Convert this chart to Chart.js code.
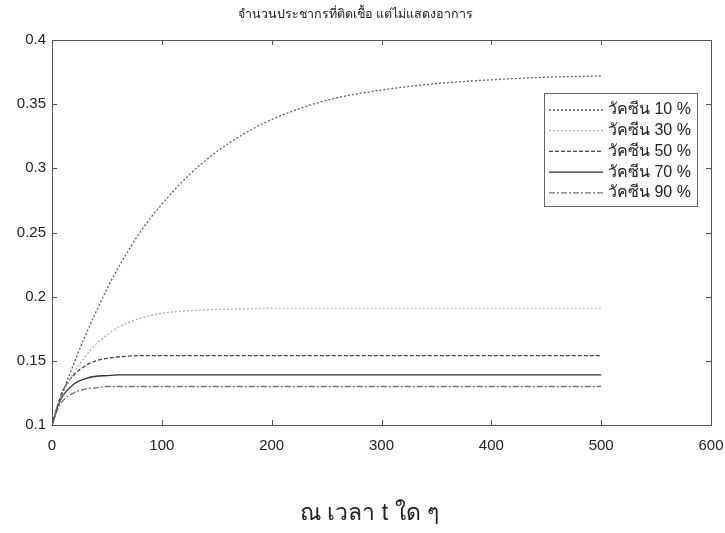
<!DOCTYPE html>
<html>
<head>
<meta charset="utf-8">
<script src="https://cdn.jsdelivr.net/npm/chart.js@4.4.1/dist/chart.umd.min.js"></script>
<style>
  html, body { margin: 0; padding: 0; background: #fff; }
  #wrap { width: 725px; height: 533px; }
</style>
</head>
<body>
<div id="wrap"><canvas id="myChart" width="725" height="533"></canvas></div>
<script>
// time steps (t) and the five vaccine series
const times = [0, 5, 10, 20, 30, 40, 50, 60, 80, 100, 125, 150, 175, 200, 250, 300, 350, 400, 450, 500];
const vac10 = [0.100, 0.113, 0.126, 0.148, 0.169, 0.188, 0.206, 0.222, 0.250, 0.272, 0.295, 0.313, 0.327, 0.338, 0.353, 0.361, 0.366, 0.369, 0.371, 0.372];
const vac30 = [0.100, 0.113, 0.124, 0.141, 0.153, 0.163, 0.170, 0.176, 0.183, 0.187, 0.189, 0.190, 0.1905, 0.191, 0.191, 0.191, 0.191, 0.191, 0.191, 0.191];
const vac50 = [0.100, 0.115, 0.127, 0.139, 0.146, 0.150, 0.152, 0.153, 0.154, 0.154, 0.154, 0.154, 0.154, 0.154, 0.154, 0.154, 0.154, 0.154, 0.154, 0.154];
const vac70 = [0.100, 0.114, 0.123, 0.132, 0.136, 0.138, 0.1385, 0.139, 0.139, 0.139, 0.139, 0.139, 0.139, 0.139, 0.139, 0.139, 0.139, 0.139, 0.139, 0.139];
const vac90 = [0.100, 0.112, 0.119, 0.125, 0.128, 0.129, 0.130, 0.130, 0.130, 0.130, 0.130, 0.130, 0.130, 0.130, 0.130, 0.130, 0.130, 0.130, 0.130, 0.130];
const seriesLabels = ["วัคซีน 10 %", "วัคซีน 30 %", "วัคซีน 50 %", "วัคซีน 70 %", "วัคซีน 90 %"];
const xTicks = [0, 100, 200, 300, 400, 500, 600];
const yTicks = [0.1, 0.15, 0.2, 0.25, 0.3, 0.35, 0.4];

const chartTitle = "จำนวนประชากรที่ติดเชื้อ แต่ไม่แสดงอาการ";
const xTitle = "ณ เวลา t ใด ๆ";

function pts(vals) {
    return times.map((t, i) => ({ x: t, y: vals[i] }));
}

const styles = [
    { color: "#5a5f5c", dash: [2, 2] },
    { color: "#a9acaa", dash: [2, 2] },
    { color: "#3c4a42", dash: [4, 2] },
    { color: "#27352d", dash: [] },
    { color: "#707472", dash: [6, 2, 2, 2] }
];
const allSeries = [vac10, vac30, vac50, vac70, vac90];

// box + inward ticks + legend inside plot (matlab look)
const matlabFrame = {
    id: "matlabFrame",
    afterDraw(chart) {
        const ctx = chart.ctx;
        const a = chart.chartArea;
        const xs = chart.scales.x, ys = chart.scales.y;
        ctx.save();
        ctx.strokeStyle = "#555";
        ctx.lineWidth = 1;
        ctx.setLineDash([]);
        ctx.strokeRect(a.left + 0.5, a.top + 0.5, a.right - a.left, a.bottom - a.top);
        const tl = 5;
        ctx.beginPath();
        xTicks.forEach(v => {
            const px = Math.round(xs.getPixelForValue(v)) + 0.5;
            ctx.moveTo(px, a.bottom); ctx.lineTo(px, a.bottom - tl);
            ctx.moveTo(px, a.top); ctx.lineTo(px, a.top + tl);
        });
        yTicks.forEach(v => {
            const py = Math.round(ys.getPixelForValue(v)) + 0.5;
            ctx.moveTo(a.left, py); ctx.lineTo(a.left + tl, py);
            ctx.moveTo(a.right, py); ctx.lineTo(a.right - tl, py);
        });
        ctx.stroke();

        // legend
        const bx = a.right - 167, by = a.top + 53, bw = 153, bh = 113;
        ctx.fillStyle = "#fff";
        ctx.fillRect(bx, by, bw, bh);
        ctx.strokeStyle = "#666";
        ctx.strokeRect(bx + 0.5, by + 0.5, bw, bh);
        ctx.font = "16px 'Liberation Sans', Arial, sans-serif";
        ctx.textBaseline = "middle";
        ctx.fillStyle = "#222";
        chart.data.datasets.forEach((ds, i) => {
            const yy = by + 17 + i * 20.7;
            ctx.strokeStyle = ds.borderColor;
            ctx.lineWidth = ds.borderWidth;
            ctx.setLineDash(ds.borderDash);
            ctx.beginPath();
            ctx.moveTo(bx + 5, yy); ctx.lineTo(bx + 59, yy);
            ctx.stroke();
            ctx.fillText(ds.label, bx + 64, yy);
        });

        // x axis title, sits a bit left of the axis centre in the original
        ctx.setLineDash([]);
        ctx.font = "23px 'Liberation Sans', sans-serif";
        ctx.textAlign = "center";
        ctx.textBaseline = "alphabetic";
        ctx.fillStyle = "#222";
        ctx.fillText(xTitle, (a.left + a.right) / 2 - 12, 520);
        ctx.restore();
    }
};

const ctx = document.getElementById("myChart").getContext("2d");
new Chart(ctx, {
    type: "line",
    data: {
        datasets: allSeries.map((vals, i) => ({
            label: seriesLabels[i],
            data: pts(vals),
            borderColor: styles[i].color,
            borderDash: styles[i].dash,
            borderWidth: 1.3,
            pointRadius: 0,
            fill: false,
            cubicInterpolationMode: "monotone"
        }))
    },
    options: {
        responsive: false,
        animation: false,
        layout: { padding: { left: 0, right: 14, top: 0, bottom: 0 } },
        plugins: {
            legend: { display: false },
            tooltip: { enabled: false },
            title: {
                display: true,
                text: chartTitle,
                color: "#222",
                font: { family: "'Liberation Serif', serif", size: 12.5, weight: "normal" },
                padding: { top: 7, bottom: 18 }
            }
        },
        scales: {
            x: {
                type: "linear",
                min: 0,
                max: 600,
                afterBuildTicks: s => { s.ticks = xTicks.map(v => ({ value: v })); },
                ticks: { color: "#222", padding: 12, font: { family: "'Liberation Sans', Arial, sans-serif", size: 15 } },
                grid: { display: false, drawTicks: false },
                border: { display: false },
                afterFit: s => { s.height = 108; s.paddingLeft = 0; s.paddingRight = 0; }
            },
            y: {
                min: 0.1,
                max: 0.4,
                afterBuildTicks: s => { s.ticks = yTicks.map(v => ({ value: v })); },
                ticks: {
                    color: "#222",
                    padding: 6,
                    font: { family: "'Liberation Sans', Arial, sans-serif", size: 15 },
                    callback: v => String(Number(v.toFixed(2)))
                },
                grid: { display: false, drawTicks: false },
                border: { display: false },
                afterFit: s => { s.width = 52; s.paddingTop = 0; s.paddingBottom = 0; }
            }
        }
    },
    plugins: [matlabFrame]
});
</script>
</body>
</html>
